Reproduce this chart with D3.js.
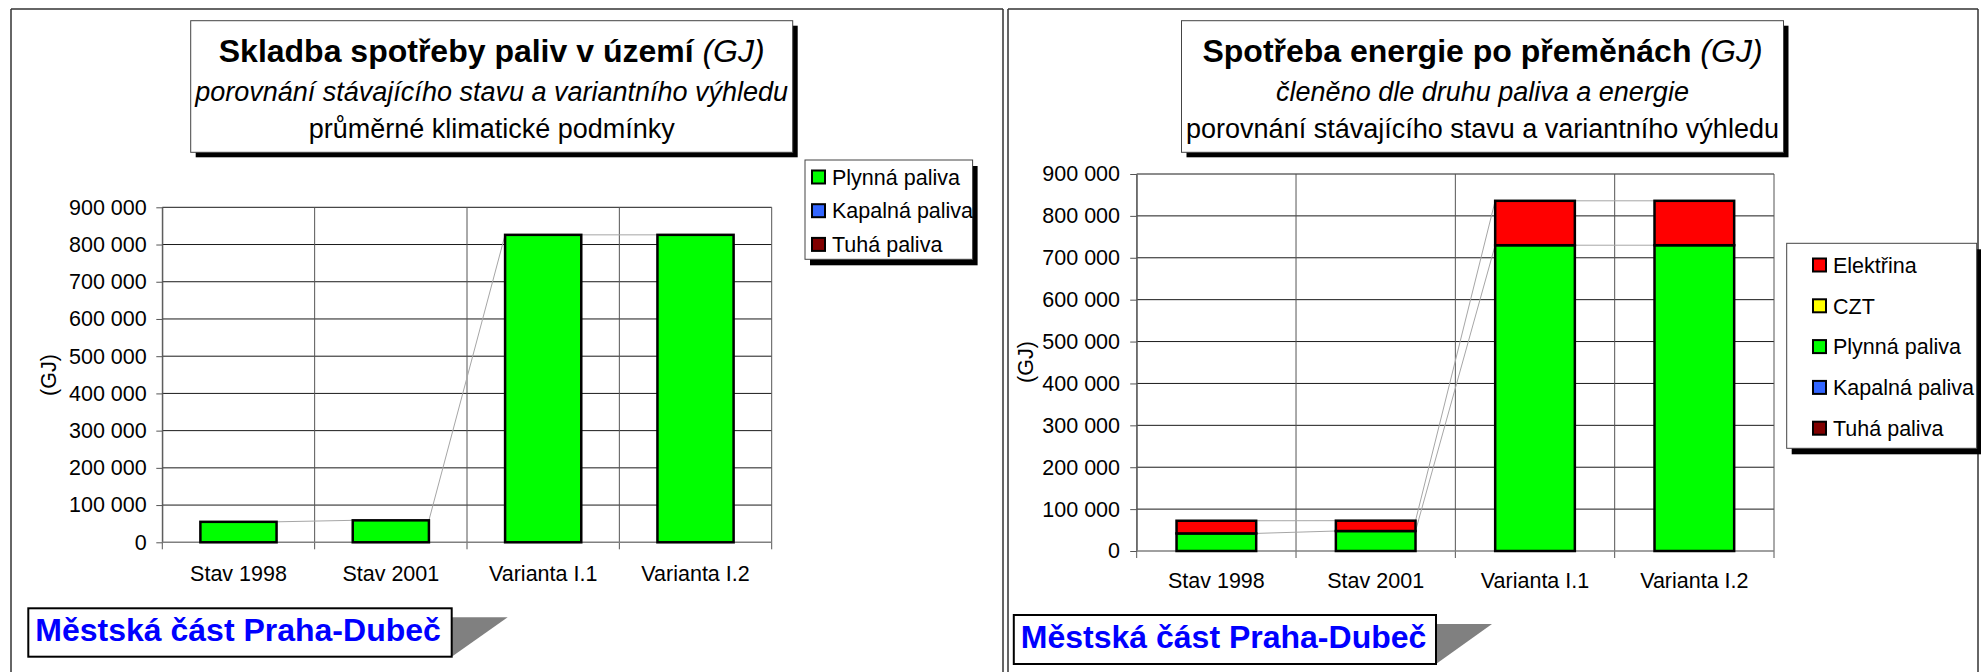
<!DOCTYPE html>
<html>
<head>
<meta charset="utf-8">
<script src="https://cdn.jsdelivr.net/npm/d3@7"></script>
<style>
  html, body { margin: 0; padding: 0; background: #fff; }
  svg { display: block; font-family: "Liberation Sans", Arial, sans-serif; }
</style>
</head>
<body>
<svg id="chart" width="1981" height="672"></svg>
<script>
// ---------------- DATA ----------------
const categories = ["Stav 1998", "Stav 2001", "Varianta I.1", "Varianta I.2"];
const yTicks = [0, 100000, 200000, 300000, 400000, 500000, 600000, 700000, 800000, 900000];

// Left chart: Skladba spotřeby paliv (stack order bottom -> top)
const fuelTuha    = [0, 0, 0, 0];
const fuelKapalna = [0, 0, 0, 0];
const fuelPlynna  = [55000, 59000, 826000, 826000];

// Right chart: Spotřeba energie po přeměnách (stack order bottom -> top)
const energyTuha      = [0, 0, 0, 0];
const energyKapalna   = [0, 0, 0, 0];
const energyPlynna    = [42000, 47700, 730000, 730000];
const energyCZT       = [0, 0, 0, 0];
const energyElektrina = [30200, 24700, 106000, 106000];

const seriesColors = {
  "Tuhá paliva": "#800000",
  "Kapalná paliva": "#3366FF",
  "Plynná paliva": "#00FF00",
  "CZT": "#FFFF00",
  "Elektřina": "#FF0000"
};

const leftTitle = ["Skladba spotřeby paliv v území ", "(GJ)"];
const leftSub1 = "porovnání stávajícího stavu a variantního výhledu";
const leftSub2 = "průměrné klimatické podmínky";
const rightTitle = ["Spotřeba energie po přeměnách ", "(GJ)"];
const rightSub1 = "členěno dle druhu paliva a energie";
const rightSub2 = "porovnání stávajícího stavu a variantního výhledu";
const yAxisLabel = "(GJ)";
const footerLabel = "Městská část Praha-Dubeč";

// ---------------- DRAW ----------------
const svg = d3.select("#chart");
const fmt = v => d3.format(",")(v).replace(/,/g, " ");

function panelFrame(x0, x1, y0) {
  const g = svg.append("g").attr("stroke", "#333").attr("stroke-width", 1.5).attr("fill", "none");
  g.append("line").attr("x1", x0).attr("y1", y0).attr("x2", x0).attr("y2", 672);
  g.append("line").attr("x1", x0).attr("y1", y0).attr("x2", x1).attr("y2", y0);
  g.append("line").attr("x1", x1).attr("y1", y0).attr("x2", x1).attr("y2", 672);
}

function titleBox(cfg) {
  const g = svg.append("g");
  const b = cfg.box;
  g.append("rect").attr("x", b.x + 5).attr("y", b.y + 5).attr("width", b.w).attr("height", b.h).attr("fill", "#000");
  g.append("rect").attr("x", b.x).attr("y", b.y).attr("width", b.w).attr("height", b.h)
    .attr("fill", "#fff").attr("stroke", "#444").attr("stroke-width", 1);
  const cx = b.x + b.w / 2;
  const t = g.append("text").attr("x", cx).attr("y", cfg.base[0]).attr("text-anchor", "middle")
    .attr("font-size", 32).attr("fill", "#000");
  t.append("tspan").attr("font-weight", "bold").text(cfg.title[0]);
  t.append("tspan").attr("font-style", "italic").text(cfg.title[1]);
  g.append("text").attr("x", cx).attr("y", cfg.base[1]).attr("text-anchor", "middle")
    .attr("font-size", 27).attr("font-style", cfg.italic[0] ? "italic" : "normal").text(cfg.sub1);
  g.append("text").attr("x", cx).attr("y", cfg.base[2]).attr("text-anchor", "middle")
    .attr("font-size", 27).attr("font-style", cfg.italic[1] ? "italic" : "normal").text(cfg.sub2);
}

function footer(b) {
  const g = svg.append("g");
  g.append("path")
    .attr("d", `M${b.x + b.w},${b.y + 9} L${b.x + b.w + 56},${b.y + 9} L${b.x + b.w},${b.y + b.h} Z`)
    .attr("fill", "#808080");
  g.append("rect").attr("x", b.x).attr("y", b.y).attr("width", b.w).attr("height", b.h)
    .attr("fill", "#fff").attr("stroke", "#000").attr("stroke-width", 2);
  g.append("text").attr("x", b.x + 7).attr("y", b.y + 32.5).attr("font-size", 32)
    .attr("font-weight", "bold").attr("fill", "#0000FF").text(footerLabel);
}

function legend(cfg) {
  const g = svg.append("g");
  const b = cfg.box;
  g.append("rect").attr("x", b.x + 5).attr("y", b.y + 6).attr("width", b.w).attr("height", b.h).attr("fill", "#000");
  g.append("rect").attr("x", b.x).attr("y", b.y).attr("width", b.w).attr("height", b.h)
    .attr("fill", "#fff").attr("stroke", "#444").attr("stroke-width", 1);
  cfg.names.forEach((n, i) => {
    const cy = cfg.y0 + i * cfg.step;
    g.append("rect").attr("x", cfg.sx).attr("y", cy - 6.5).attr("width", 13).attr("height", 13)
      .attr("fill", seriesColors[n]).attr("stroke", "#000").attr("stroke-width", 2);
    g.append("text").attr("x", cfg.sx + 20).attr("y", cy + 7.7).attr("font-size", 21.5).text(n);
  });
}

function barChart(cfg) {
  const g = svg.append("g");
  const x = d3.scaleBand().domain(categories).range([cfg.left, cfg.right]).paddingInner(0).paddingOuter(0);
  const y = d3.scaleLinear().domain([0, 900000]).range([cfg.bottom, cfg.top]);
  const bw = x.bandwidth();
  const barW = bw / 2;

  const rows = categories.map((c, i) => {
    const r = { cat: c };
    cfg.keys.forEach((k, j) => r[k] = cfg.values[j][i]);
    return r;
  });
  const stacked = d3.stack().keys(cfg.keys)(rows);

  // horizontal gridlines
  g.append("g").selectAll("line").data(yTicks.filter(v => v > 0)).join("line")
    .attr("x1", cfg.left).attr("x2", cfg.right)
    .attr("y1", d => y(d)).attr("y2", d => y(d))
    .attr("stroke", "#1a1a1a").attr("stroke-width", 1);

  // vertical gridlines at category boundaries (extend as tick marks below axis)
  const bounds = categories.map(c => x(c)).concat([x(categories[categories.length - 1]) + bw]);
  g.append("g").selectAll("line").data(bounds).join("line")
    .attr("x1", d => d).attr("x2", d => d)
    .attr("y1", y(900000)).attr("y2", cfg.bottom + 7)
    .attr("stroke", "#555").attr("stroke-width", 1);

  // y axis
  const yAxis = d3.axisLeft(y).tickValues(yTicks).tickFormat(fmt).tickSize(cfg.tick).tickPadding(cfg.pad).tickSizeOuter(0);
  const ya = g.append("g").attr("transform", `translate(${cfg.left},0)`).call(yAxis);
  ya.select(".domain").attr("stroke", "#555");
  ya.selectAll(".tick line").attr("stroke", "#555");
  ya.selectAll(".tick text").attr("font-size", 21.5).attr("font-family", "Liberation Sans, Arial, sans-serif").attr("fill", "#000");

  // zero axis line
  g.append("line").attr("x1", cfg.left).attr("x2", cfg.right).attr("y1", y(0)).attr("y2", y(0))
    .attr("stroke", "#808080").attr("stroke-width", 1.5);

  // category labels
  const xAxis = d3.axisBottom(x).tickSize(0).tickPadding(0);
  const xa = g.append("g").attr("transform", `translate(0,${cfg.catBase})`).call(xAxis);
  xa.select(".domain").remove();
  xa.selectAll(".tick text").attr("font-size", 21.5).attr("dy", 0).attr("y", 0)
    .attr("font-family", "Liberation Sans, Arial, sans-serif").attr("fill", "#000");

  // series lines
  const sl = g.append("g").attr("stroke", "#a6a6a6").attr("stroke-width", 1).attr("fill", "none");
  stacked.forEach(s => {
    if (!s.some(d => d[1] - d[0] > 0)) return;
    for (let i = 0; i < s.length - 1; i++) {
      sl.append("line")
        .attr("x1", x(categories[i]) + bw / 2 + barW / 2).attr("y1", y(s[i][1]))
        .attr("x2", x(categories[i + 1]) + bw / 2 - barW / 2).attr("y2", y(s[i + 1][1]));
    }
  });

  // bars
  stacked.forEach(s => {
    g.append("g").selectAll("rect").data(s.filter(d => d[1] - d[0] > 0)).join("rect")
      .attr("x", d => x(d.data.cat) + bw / 2 - barW / 2)
      .attr("width", barW)
      .attr("y", d => y(d[1]))
      .attr("height", d => y(d[0]) - y(d[1]))
      .attr("fill", seriesColors[s.key])
      .attr("stroke", "#000").attr("stroke-width", 2.5);
  });

  // y axis title
  g.append("text").attr("transform", `translate(${cfg.ylx},${cfg.yly}) rotate(-90)`)
    .attr("text-anchor", "middle").attr("dominant-baseline", "central")
    .attr("font-size", 21.5).text(yAxisLabel);
}

// ---------- LEFT PANEL ----------
panelFrame(11, 1003, 9);
titleBox({ box: { x: 190.7, y: 20.7, w: 602, h: 131.6 }, base: [62, 101, 138],
  title: leftTitle, sub1: leftSub1, sub2: leftSub2, italic: [true, false] });
barChart({ left: 162.3, right: 771.7, top: 207.3, bottom: 542.3, tick: 6, pad: 9.6,
  keys: ["Tuhá paliva", "Kapalná paliva", "Plynná paliva"],
  values: [fuelTuha, fuelKapalna, fuelPlynna],
  catBase: 581, ylx: 49, yly: 375 });
legend({ box: { x: 805, y: 160, w: 167.6, h: 99.3 }, names: ["Plynná paliva", "Kapalná paliva", "Tuhá paliva"],
  y0: 177, step: 33.7, sx: 812 });
footer({ x: 28.3, y: 608.3, w: 423.4, h: 48.4 });

// ---------- RIGHT PANEL ----------
panelFrame(1008, 1978, 9);
titleBox({ box: { x: 1181.5, y: 20.7, w: 602, h: 131.6 }, base: [62, 101, 138],
  title: rightTitle, sub1: rightSub1, sub2: rightSub2, italic: [true, false] });
barChart({ left: 1136.7, right: 1774, top: 174, bottom: 551, tick: 6.5, pad: 10.2,
  keys: ["Tuhá paliva", "Kapalná paliva", "Plynná paliva", "CZT", "Elektřina"],
  values: [energyTuha, energyKapalna, energyPlynna, energyCZT, energyElektrina],
  catBase: 588, ylx: 1026, yly: 362 });
legend({ box: { x: 1786.7, y: 243.3, w: 190, h: 205 }, names: ["Elektřina", "CZT", "Plynná paliva", "Kapalná paliva", "Tuhá paliva"],
  y0: 265, step: 40.8, sx: 1813 });
footer({ x: 1013.8, y: 615, w: 422.2, h: 49 });
</script>
</body>
</html>
